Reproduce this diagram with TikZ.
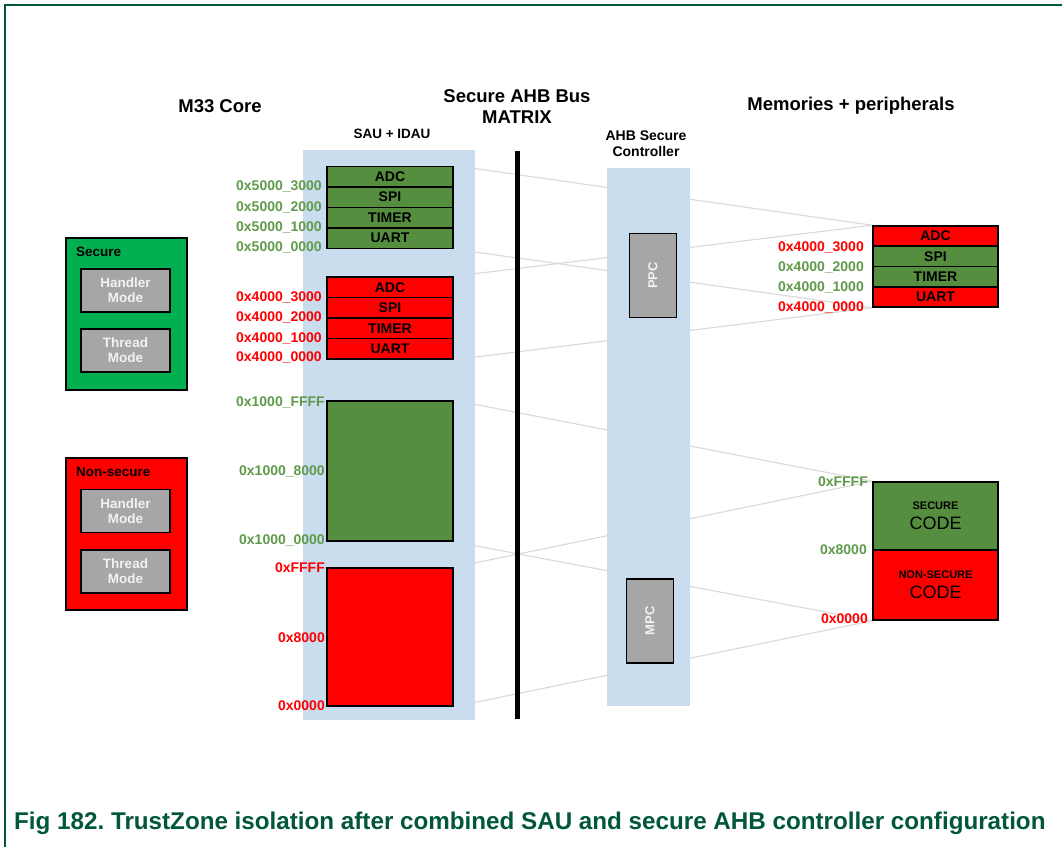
\documentclass[tikz,border=0pt]{standalone}
\usepackage{fontspec}
\setmainfont{Liberation Sans}
\frenchspacing
\pgfdeclarelayer{bg}
\pgfdeclarelayer{lines}
\pgfdeclarelayer{panels}
\pgfsetlayers{bg,lines,panels,main}
\definecolor{panelblue}{RGB}{201,221,239}
\definecolor{boxgreen}{RGB}{84,142,62}
\definecolor{lblgreen}{RGB}{96,154,75}
\definecolor{brightgreen}{RGB}{0,176,80}
\definecolor{boxred}{RGB}{255,0,0}
\definecolor{boxgray}{RGB}{166,166,166}
\definecolor{linegray}{RGB}{217,217,217}
\definecolor{capgreen}{RGB}{0,87,60}
\definecolor{modetext}{RGB}{242,242,242}
\tikzset{
  cell/.style={draw=black, line width=1.5pt, minimum width=126pt, minimum height=20.5pt, inner sep=0pt, font=\bfseries\fontsize{14}{16}\selectfont, text=black},
  rcell/.style={cell, minimum width=125pt, minimum height=20.25pt},
  sec/.style={fill=boxgreen},
  nsec/.style={fill=boxred},
  addr/.style={font=\bfseries\fontsize{14}{16}\selectfont, inner sep=0pt, anchor=east},
  gaddr/.style={addr, text=lblgreen},
  raddr/.style={addr, text=boxred},
  title/.style={font=\bfseries\fontsize{18.5}{21}\selectfont, inner sep=0pt, align=center},
  subtitle/.style={font=\bfseries\fontsize{13.5}{16}\selectfont, inner sep=0pt, align=center},
  conn/.style={draw=linegray, line width=1.1pt},
  modebox/.style={draw=black, line width=1.5pt, fill=boxgray, minimum width=89pt, minimum height=43pt, inner sep=0pt, align=center, text=modetext, font=\bfseries\fontsize{13.5}{15}\selectfont},
  worldbox/.style={draw=black, line width=1.5pt, minimum width=121pt, minimum height=152pt, inner sep=0pt},
  worldlbl/.style={font=\bfseries\fontsize{13.5}{16}\selectfont, inner sep=0pt, anchor=west, text=black},
  ctrlbox/.style={draw=black, line width=1.5pt, fill=boxgray, rotate=90, inner sep=0pt, text=modetext, font=\bfseries\fontsize{13}{15}\selectfont},
  memcell/.style={draw=black, line width=1.5pt, minimum width=126pt, inner sep=0pt},
  codecell/.style={draw=black, line width=1.5pt, minimum width=125pt, inner sep=0pt, align=center, text=black, font=\fontsize{11}{13}\selectfont}
}
\begin{document}
\begin{tikzpicture}[x=1pt,y=-1pt]
\begin{pgfonlayer}{bg}
  \fill[white] (0,0) rectangle (1062,847);
\end{pgfonlayer}
\useasboundingbox (0,0) rectangle (1062,847);
% frame
\draw[capgreen, line width=1.5pt] (5,847) -- (5,5) -- (1062,5);

% titles
\node[title] (tcore) at (220,106) {M33 Core};
\node[title] (tbus) at (517,107) {Secure AHB Bus\\MATRIX};
\node[title] (tmem) at (851,106) {Memories + peripherals};
\node[subtitle] (tsau) at (392,134) {SAU + IDAU};
\node[subtitle, font=\bfseries\fontsize{14}{16}\selectfont] (tahb) at (646,144) {AHB Secure\\Controller};

% panels
\begin{pgfonlayer}{panels}
  \fill[panelblue] (303,150) rectangle (475,720);
  \fill[panelblue] (607,168) rectangle (690,706);
\end{pgfonlayer}
% bus
\coordinate (bustop) at (517,151);
\coordinate (busbot) at (517,719);
\draw[black, line width=5pt] (bustop) -- (busbot);

% M33 core worlds
\node[worldbox, fill=brightgreen] (secw) at (126.5,314) {};
\node[worldlbl] (secl) at (76,252) {Secure};
\node[modebox] (sh) at (125.5,290.5) {Handler\\Mode};
\node[modebox] (st) at (125.5,350.5) {Thread\\Mode};
\node[worldbox, fill=boxred] (nsw) at (126.5,534) {};
\node[worldlbl] (nsl) at (76,472) {Non-secure};
\node[modebox] (nh) at (125.5,511) {Handler\\Mode};
\node[modebox] (nt) at (125.5,571.5) {Thread\\Mode};

% SAU secure peripherals
\node[cell, sec] (sadc) at (390,176.5) {ADC};
\node[cell, sec] (sspi) at (390,197) {SPI};
\node[cell, sec] (stim) at (390,217.5) {TIMER};
\node[cell, sec] (suart) at (390,238) {UART};
\node[gaddr] (a1) at (322,186) {0x5000\_3000};
\node[gaddr] (a2) at (322,207) {0x5000\_2000};
\node[gaddr] (a3) at (322,227) {0x5000\_1000};
\node[gaddr] (a4) at (322,247) {0x5000\_0000};

% SAU non-secure peripherals
\node[cell, nsec] (nadc) at (390,287.25) {ADC};
\node[cell, nsec] (nspi) at (390,307.75) {SPI};
\node[cell, nsec] (ntim) at (390,328.25) {TIMER};
\node[cell, nsec] (nuart) at (390,348.75) {UART};
\node[raddr] (b1) at (322,297) {0x4000\_3000};
\node[raddr] (b2) at (322,317) {0x4000\_2000};
\node[raddr] (b3) at (322,338) {0x4000\_1000};
\node[raddr] (b4) at (322,357) {0x4000\_0000};

% SAU memories
\node[memcell, sec, minimum height=140pt] (sflash) at (390,471) {};
\node[gaddr] (c1) at (325,402) {0x1000\_FFFF};
\node[gaddr] (c2) at (325,471) {0x1000\_8000};
\node[gaddr] (c3) at (325,540) {0x1000\_0000};
\node[memcell, nsec, minimum height=138pt] (nram) at (390,637) {};
\node[raddr] (d1) at (325,568) {0xFFFF};
\node[raddr] (d2) at (325,638) {0x8000};
\node[raddr] (d3) at (325,706) {0x0000};

% controllers
\node[ctrlbox, minimum width=84pt, minimum height=47pt] (ppc) at (653,275.5) {PPC};
\node[ctrlbox, minimum width=84pt, minimum height=47pt] (mpc) at (650,621) {MPC};

% right peripherals
\node[rcell, nsec] (padc) at (935.5,236.1) {ADC};
\node[rcell, sec] (pspi) at (935.5,256.4) {SPI};
\node[rcell, sec] (ptim) at (935.5,276.6) {TIMER};
\node[rcell, nsec] (puart) at (935.5,296.9) {UART};
\node[raddr] (e1) at (864,247) {0x4000\_3000};
\node[gaddr] (e2) at (864,267) {0x4000\_2000};
\node[gaddr] (e3) at (864,287) {0x4000\_1000};
\node[raddr] (e4) at (864,307) {0x4000\_0000};

% right code memory
\node[codecell, sec, minimum height=68pt] (scode) at (935.5,516) {{\bfseries SECURE}\\[7pt]{\fontsize{18}{20}\selectfont CODE}};
\node[codecell, nsec, minimum height=70pt] (ncode) at (935.5,585) {{\bfseries NON-SECURE}\\[7pt]{\fontsize{18}{20}\selectfont CODE}};
\node[gaddr] (f1) at (868,482) {0xFFFF};
\node[gaddr] (f2) at (867,550) {0x8000};
\node[raddr] (f3) at (868,619) {0x0000};

% connectors (behind panels)
\begin{pgfonlayer}{lines}
  \draw[conn] (sadc.north east) -- (padc.north west);
  \draw[conn] (suart.south east) -- (puart.south west);
  \draw[conn] (nadc.north east) -- (padc.north west);
  \draw[conn] (nuart.south east) -- (puart.south west);
  \draw[conn] (sflash.north east) -- (scode.north west);
  \draw[conn] (sflash.south east) -- (ncode.south west);
  \draw[conn] (nram.north east) -- (scode.north west);
  \draw[conn] (nram.south east) -- (ncode.south west);
\end{pgfonlayer}

% caption
\node[font=\bfseries\fontsize{24.2}{28}\selectfont, text=capgreen, inner sep=0pt, anchor=west] (cap) at (14,823) {Fig 182. TrustZone isolation after combined SAU and secure AHB controller configuration};
\end{tikzpicture}
\end{document}
